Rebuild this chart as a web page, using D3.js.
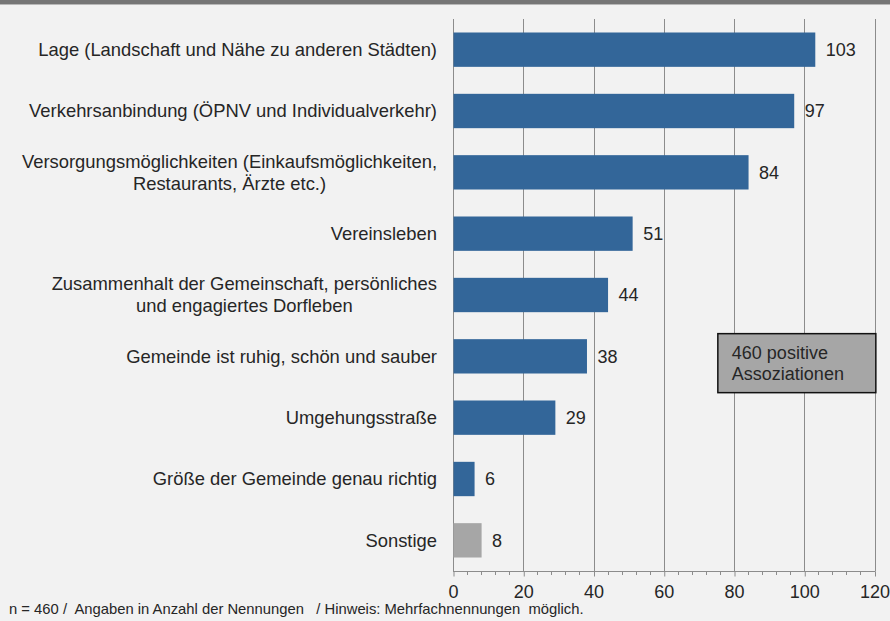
<!DOCTYPE html>
<html>
<head>
<meta charset="utf-8">
<script src="https://cdn.jsdelivr.net/npm/d3@7"></script>
<style>
  body { margin: 0; background: #f2f2f2; }
  text { font-family: "Liberation Sans", Arial, sans-serif; fill: #262626; }
</style>
</head>
<body>
<script>
// data
var categories = [
  "Lage (Landschaft und Nähe zu anderen Städten)",
  "Verkehrsanbindung (ÖPNV und Individualverkehr)",
  "Versorgungsmöglichkeiten (Einkaufsmöglichkeiten,\nRestaurants, Ärzte etc.)",
  "Vereinsleben",
  "Zusammenhalt der Gemeinschaft, persönliches\nund engagiertes Dorfleben",
  "Gemeinde ist ruhig, schön und sauber",
  "Umgehungsstraße",
  "Größe der Gemeinde genau richtig",
  "Sonstige"
];
var values = [103, 97, 84, 51, 44, 38, 29, 6, 8];
var xTicks = [0, 20, 40, 60, 80, 100, 120];
var boxLines = ["460 positive", "Assoziationen"];
var footnote = "n = 460 /  Angaben in Anzahl der Nennungen   / Hinweis: Mehrfachnennungen  möglich.";

var width = 890, height = 621;
var plotLeft = 453, plotRight = 874.5, plotTop = 19, plotBottom = 571;

var svg = d3.select("body").append("svg")
    .attr("width", width)
    .attr("height", height);

svg.append("rect").attr("width", width).attr("height", height).attr("fill", "#f2f2f2");
// top banner
svg.append("rect").attr("x", 0).attr("y", 0).attr("width", width).attr("height", 4).attr("fill", "#767676");
svg.append("rect").attr("x", 0).attr("y", 4).attr("width", width).attr("height", 1).attr("fill", "#b8b8b8");

var xScale = d3.scaleLinear().domain([0, 120]).range([plotLeft, plotRight]);
var yScale = d3.scaleBand().domain(categories).range([plotTop, plotBottom])
    .paddingInner(0.44).paddingOuter(0.22);

// gridlines
svg.append("g").selectAll("line")
  .data(xTicks)
  .join("line")
    .attr("x1", function(d) { return Math.round(xScale(d)) + 0.5; })
    .attr("x2", function(d) { return Math.round(xScale(d)) + 0.5; })
    .attr("y1", plotTop)
    .attr("y2", plotBottom)
    .attr("stroke", "#8c8c8c")
    .attr("stroke-width", 1);

// bars
svg.append("g").selectAll("rect")
  .data(values)
  .join("rect")
    .attr("x", xScale(0) + 0.5)
    .attr("y", function(d, i) { return yScale(categories[i]); })
    .attr("width", function(d) { return xScale(d) - xScale(0); })
    .attr("height", yScale.bandwidth())
    .attr("fill", function(d, i) { return categories[i] === "Sonstige" ? "#a6a6a6" : "#336699"; });

// value labels
svg.append("g").selectAll("text")
  .data(values)
  .join("text")
    .attr("x", function(d) { return xScale(d) + 11; })
    .attr("y", function(d, i) { return yScale(categories[i]) + yScale.bandwidth() / 2; })
    .attr("dy", "0.35em")
    .attr("font-size", 18)
    .text(function(d) { return d; });

// category labels (multi-line centred, block right-aligned)
var labelRight = plotLeft - 16;
categories.forEach(function(cat) {
  var lines = cat.split("\n");
  var cy = yScale(cat) + yScale.bandwidth() / 2;
  var g = svg.append("g");
  var texts = lines.map(function(line, j) {
    return g.append("text")
      .attr("font-size", 18.4)
      .attr("text-anchor", "middle")
      .attr("y", cy + (j - (lines.length - 1) / 2) * 22)
      .attr("dy", "0.35em")
      .text(line);
  });
  var maxW = d3.max(texts, function(t) { return t.node().getComputedTextLength(); });
  texts.forEach(function(t) { t.attr("x", labelRight - maxW / 2); });
});

// x axis
var xAxis = d3.axisBottom(xScale).tickValues(xTicks).tickSize(5).tickPadding(9);
var minorTicks = d3.range(0, 121, 4).filter(function(v) { return v % 20 !== 0; });
var xg = svg.append("g")
    .attr("transform", "translate(0," + (plotBottom + 0.5) + ")");
xg.selectAll("line.minor")
  .data(minorTicks)
  .join("line")
    .attr("class", "minor")
    .attr("x1", function(d) { return Math.round(xScale(d)) + 0.5; })
    .attr("x2", function(d) { return Math.round(xScale(d)) + 0.5; })
    .attr("y1", 0).attr("y2", 3.5)
    .attr("stroke", "#8c8c8c");
xg.call(xAxis);
xg.select(".domain").attr("stroke", "#8c8c8c").attr("d", "M" + plotLeft + ",0H" + (plotRight + 1));
xg.selectAll(".tick line").attr("stroke", "#8c8c8c")
  .attr("transform", "translate(0.5,0)");
xg.selectAll(".tick text")
  .attr("font-size", 18)
  .attr("font-family", "Liberation Sans, Arial, sans-serif")
  .attr("fill", "#262626");

// annotation box
var boxX = xScale(75.4), boxY = yScale(categories[5]) - 5.5;
svg.append("rect")
  .attr("x", boxX).attr("y", boxY)
  .attr("width", 158).attr("height", 59)
  .attr("fill", "#a6a6a6")
  .attr("stroke", "#111")
  .attr("stroke-width", 1.5);
boxLines.forEach(function(line, j) {
  svg.append("text")
    .attr("x", boxX + 14)
    .attr("y", boxY + 25 + j * 21.5)
    .attr("font-size", 18)
    .attr("fill", "#111")
    .text(line);
});

// footnote
svg.append("text")
  .attr("x", 9)
  .attr("y", 614)
  .attr("font-size", 14.8)
  .attr("xml:space", "preserve")
  .style("white-space", "pre")
  .text(footnote);
</script>
</body>
</html>
